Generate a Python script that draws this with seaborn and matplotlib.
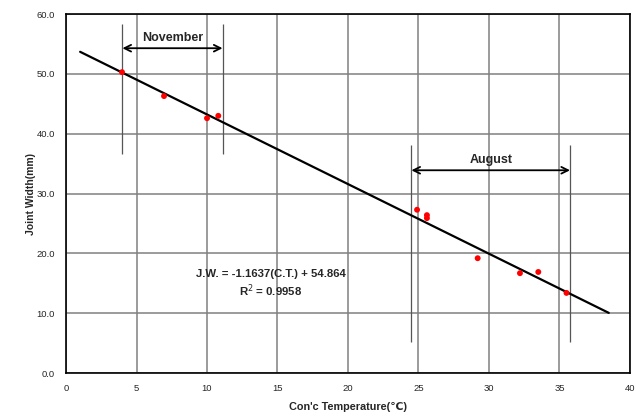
import pandas as pd
import matplotlib.pyplot as plt
import seaborn as sns

# Measured joint width vs concrete temperature
temp = [3.97, 6.95, 10.0, 10.8, 24.9, 25.6, 25.6, 29.2, 32.2, 33.5, 35.5]
width = [50.3, 46.3, 42.6, 43.0, 27.3, 26.4, 25.9, 19.2, 16.7, 16.9, 13.4]

# Fitted line J.W. = -1.1637(C.T.) + 54.864
slope = -1.1637
intercept = 54.864
fit_x = [1.0, 38.5]
fit_y = [slope * x + intercept for x in fit_x]

# Season ranges
nov_range = [4.0, 11.1]
aug_range = [24.5, 35.75]

x_ticks = list(range(0, 41, 5))
y_ticks = list(range(0, 61, 10))

pts = pd.DataFrame({"temp": temp, "width": width})
fit = pd.DataFrame({"x": fit_x, "y": fit_y})

sns.set_theme(style="white")
plt.rcParams["font.family"] = ["Liberation Sans", "DejaVu Sans"]

fig = plt.figure(figsize=(6.35, 4.15), dpi=100)
ax = fig.add_axes([0.104, 0.101, 0.888, 0.865])

sns.lineplot(data=fit, x="x", y="y", ax=ax, color="black", linewidth=1.6, zorder=3)
sns.scatterplot(data=pts, x="temp", y="width", ax=ax, color="red", s=18,
                edgecolor="none", zorder=4)

# Season brackets
for (x0, x1), y0, y1, ya, label in [(nov_range, 36.6, 58.4, 54.3, "November"),
                                     (aug_range, 5.2, 38.1, 33.9, "August")]:
    ax.vlines([x0, x1], y0, y1, color="#555555", linewidth=0.9, zorder=2)
    ax.annotate("", xy=(x0, ya), xytext=(x1, ya),
                arrowprops=dict(arrowstyle="<->", color="black", lw=1.3,
                                shrinkA=0, shrinkB=0))
    ax.text((x0 + x1) / 2, ya + 0.7, label, ha="center", va="bottom",
            fontsize=9, fontweight="bold")

ax.text(14.5, 16.6, "J.W. = -1.1637(C.T.) + 54.864", ha="center", va="center",
        fontsize=8.2, fontweight="bold")
ax.text(14.5, 13.8, "R$^2$ = 0.9958", ha="center", va="center",
        fontsize=8.2, fontweight="bold")

ax.set_xlim(0, 40)
ax.set_ylim(0, 60)
ax.set_xticks(x_ticks)
ax.set_yticks(y_ticks)
ax.set_yticklabels([f"{v:.1f}" for v in y_ticks])
ax.tick_params(labelsize=6.8, length=0, pad=8)
ax.grid(True, color="#808080", linewidth=1.1)
ax.set_axisbelow(True)
for s in ax.spines.values():
    s.set_color("black")
    s.set_linewidth(1.2)

ax.set_xlabel("Con'c Temperature(\u2103)", fontsize=7.8, fontweight="bold", labelpad=6)
ax.set_ylabel("Joint Width(mm)", fontsize=7.5, fontweight="bold", labelpad=0)

fig.savefig("out.png", dpi=100)
